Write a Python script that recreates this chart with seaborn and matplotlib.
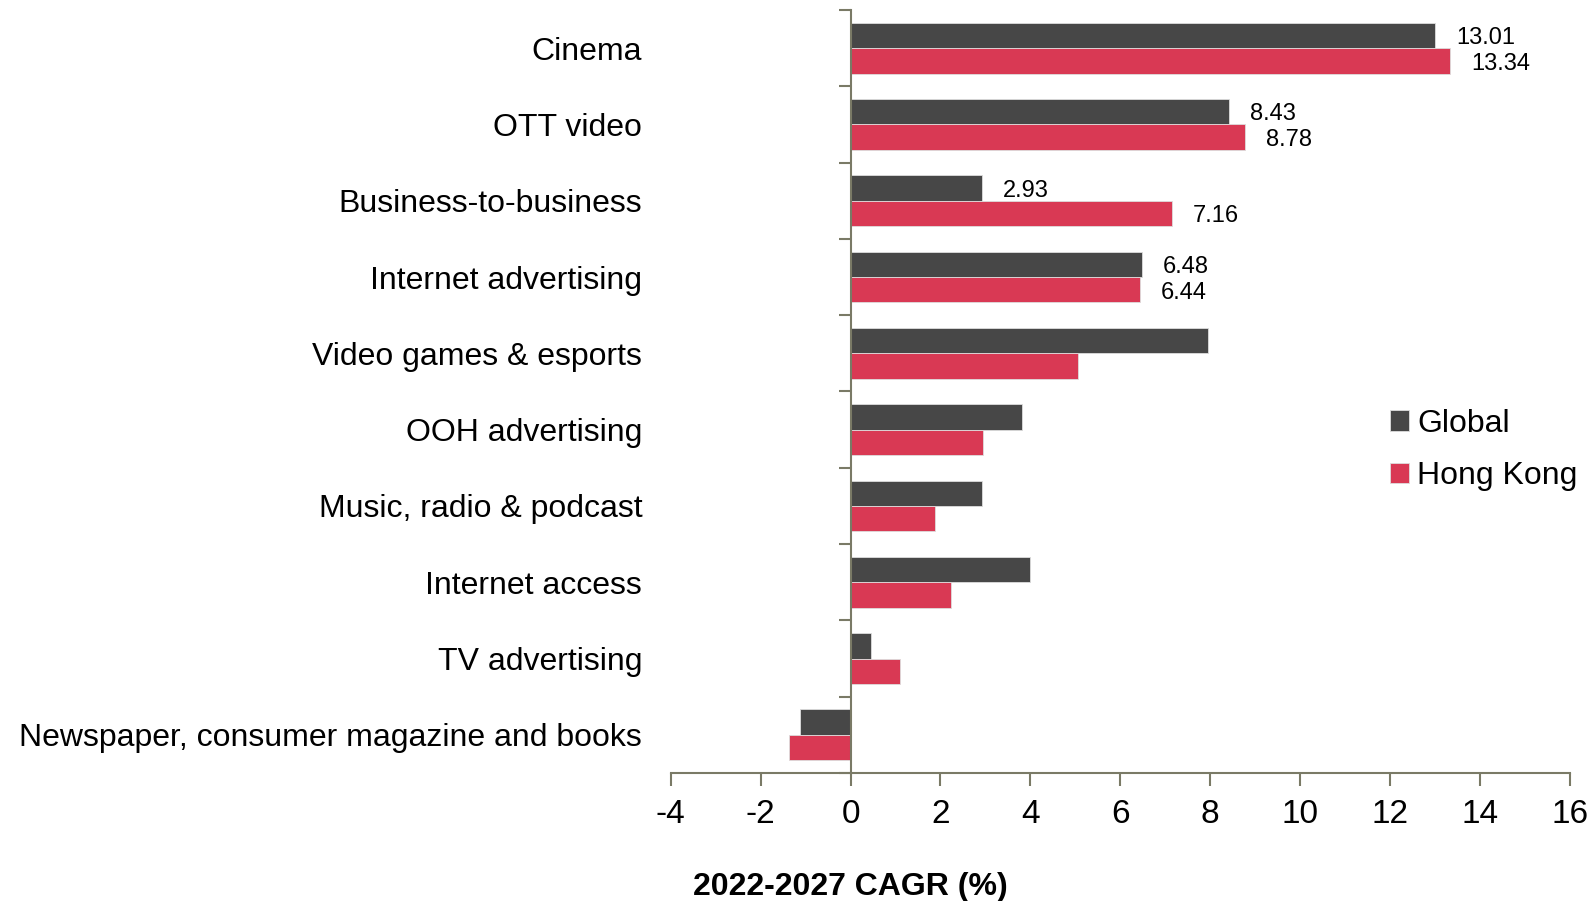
import matplotlib
matplotlib.use("Agg")
import matplotlib.pyplot as plt
import seaborn as sns
import pandas as pd
from matplotlib.ticker import FixedLocator

categories = ["Cinema", "OTT video", "Business-to-business", "Internet advertising",
              "Video games & esports", "OOH advertising", "Music, radio & podcast",
              "Internet access", "TV advertising", "Newspaper, consumer magazine and books"]
global_vals = [13.01, 8.43, 2.93, 6.48, 7.95, 3.82, 2.93, 3.99, 0.45, -1.13]
hk_vals = [13.34, 8.78, 7.16, 6.44, 5.06, 2.95, 1.87, 2.23, 1.10, -1.36]
series = ["Global", "Hong Kong"]
labeled = 4  # first categories carry value labels
x_ticks = list(range(-4, 17, 2))
x_label = "2022-2027 CAGR (%)"

colors = ["#474747", "#D93954"]
axis_color = "#7a7a66"

df = pd.DataFrame({
    "category": categories * 2,
    "value": global_vals + hk_vals,
    "series": [series[0]] * len(categories) + [series[1]] * len(categories),
})

sns.set_theme(style="white")
plt.rcParams["font.family"] = ["Liberation Sans", "DejaVu Sans"]
plt.rcParams["text.color"] = "black"
plt.rcParams["xtick.color"] = "black"
plt.rcParams["ytick.color"] = "black"

fig = plt.figure(figsize=(15.91, 9.01), dpi=100)
ax = fig.add_axes([0.4216, 0.142, 0.565, 0.847])

sns.barplot(data=df, x="value", y="category", hue="series", order=categories,
            hue_order=series, palette=colors, orient="h", width=0.667, gap=0,
            edgecolor="#dddddd", linewidth=0.6, ax=ax, saturation=1)

ax.set_xlim(-4, 16)
ax.set_ylim(len(categories) - 0.5, -0.5)
ax.set_xticks(x_ticks)
ax.set_xticklabels([str(t) for t in x_ticks], fontsize=24)
ax.tick_params(axis="x", direction="out", length=9, width=1.5, color=axis_color, pad=10,
               bottom=True, labelcolor="black")

for s in ["top", "right"]:
    ax.spines[s].set_visible(False)
ax.spines["left"].set_position(("data", 0))
ax.spines["left"].set_color(axis_color)
ax.spines["left"].set_linewidth(1.5)
ax.spines["bottom"].set_color(axis_color)
ax.spines["bottom"].set_linewidth(1.5)

ax.yaxis.set_minor_locator(FixedLocator([i - 0.5 for i in range(len(categories) + 1)]))
ax.tick_params(axis="y", which="major", length=0, pad=150, labelsize=23, labelcolor="black")
ax.tick_params(axis="y", which="minor", left=True, direction="out", length=9,
               width=1.5, color=axis_color)
ax.set_ylabel("")

ax.set_xlabel(x_label, fontsize=23, fontweight="bold", color="black")
ax.xaxis.set_label_coords(0.2, -0.13)

for cont in ax.containers[:2]:
    for i, bar in enumerate(cont):
        if i < labeled:
            w = bar.get_width()
            ax.annotate(f"{w:.2f}", (w, bar.get_y() + bar.get_height() / 2),
                        xytext=(15, -2), textcoords="offset points",
                        va="center", ha="left", fontsize=17, color="black")

leg = ax.legend(loc="upper left", bbox_to_anchor=(0.786, 0.494), frameon=False,
                fontsize=23, handlelength=0.6, handleheight=0.6, handletextpad=0.25,
                labelspacing=0.7, borderaxespad=0)

fig.savefig("out.png", dpi=100)
